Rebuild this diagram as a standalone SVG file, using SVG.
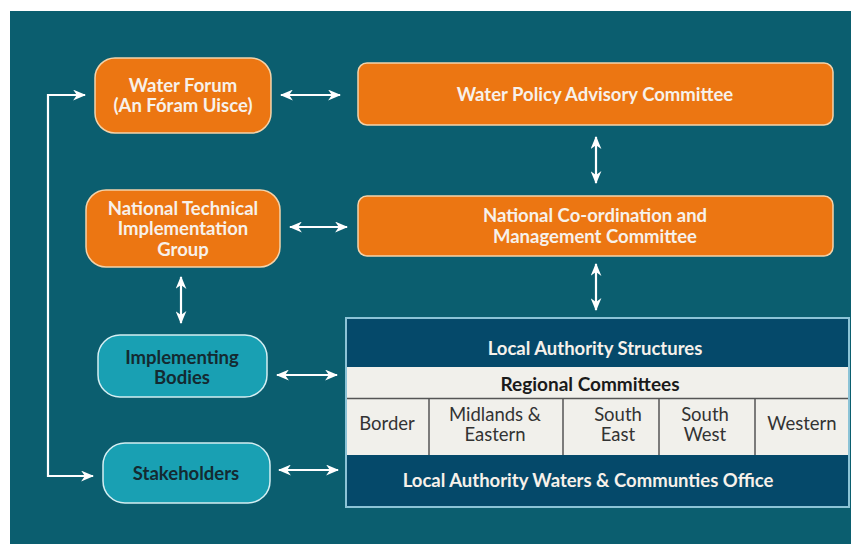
<svg xmlns="http://www.w3.org/2000/svg" width="851" height="544" viewBox="0 0 851 544">
<defs>
<style>
.bg{fill:#0b5e6f}
.or{fill:#ec7612;stroke:#f3d3aa;stroke-width:1.5}
.cy{fill:#19a0b3;stroke:#d4eef2;stroke-width:1.5}
.tw{font-family:Lato,"Open Sans",sans-serif;font-weight:700;font-size:18.5px;fill:#f7f1ea;text-anchor:middle}
.td{font-family:Lato,"Open Sans",sans-serif;font-weight:700;font-size:18.5px;fill:#142a31;text-anchor:middle}
.tc{font-family:Lato,"Open Sans",sans-serif;font-weight:400;font-size:18.5px;fill:#333;text-anchor:middle}
.tb{font-family:Lato,"Open Sans",sans-serif;font-weight:700;font-size:19px;fill:#1a1a1a;text-anchor:middle}
.lt{fill:#f1f0eb}
.grid{stroke:#555;stroke-width:1.5;fill:none}
.con{stroke:#fff;stroke-width:2.2;fill:none}
</style>
<marker id="ah" viewBox="0 0 12 10" refX="11" refY="5" markerWidth="13" markerHeight="11" markerUnits="userSpaceOnUse" orient="auto-start-reverse">
<path d="M0,0 L12,5 L0,10 L3.5,5 z" fill="#fff"/>
</marker>
</defs>
<rect class="bg" x="10" y="11" width="841" height="533"/>

<g id="water-forum">
<rect class="or" x="95" y="58" width="176" height="75" rx="20"/>
<text class="tw" x="183" y="92">Water Forum</text>
<text class="tw" x="183" y="112">(An Fóram Uisce)</text>
</g>
<g id="wpac">
<rect class="or" x="358" y="63" width="475" height="62" rx="9"/>
<text class="tw" x="595" y="101">Water Policy Advisory Committee</text>
</g>
<g id="ntig">
<rect class="or" x="86" y="190" width="194" height="77" rx="20"/>
<text class="tw" x="183" y="215">National Technical</text>
<text class="tw" x="183" y="235">Implementation</text>
<text class="tw" x="183" y="256">Group</text>
</g>
<g id="ncmc">
<rect class="or" x="358" y="196" width="475" height="60" rx="9"/>
<text class="tw" x="595" y="222">National Co-ordination and</text>
<text class="tw" x="595" y="243">Management Committee</text>
</g>
<g id="implementing-bodies">
<rect class="cy" x="98" y="335" width="169" height="62" rx="22"/>
<text class="td" x="182" y="364">Implementing</text>
<text class="td" x="182" y="384">Bodies</text>
</g>
<g id="stakeholders">
<rect class="cy" x="103" y="443" width="167" height="60" rx="22"/>
<text class="td" x="186" y="480">Stakeholders</text>
</g>
<g id="local-authority">
<rect x="346" y="318" width="503" height="189" fill="#05496a" stroke="#8cc3d6" stroke-width="2"/>
<rect class="lt" x="347" y="367" width="501" height="88"/>
<line class="grid" x1="347" y1="398.5" x2="848" y2="398.5"/>
<line class="grid" x1="429" y1="398" x2="429" y2="455"/>
<line class="grid" x1="563" y1="398" x2="563" y2="455"/>
<line class="grid" x1="659" y1="398" x2="659" y2="455"/>
<line class="grid" x1="755" y1="398" x2="755" y2="455"/>
<text class="tw" x="595" y="355">Local Authority Structures</text>
<text class="tb" x="590" y="391">Regional Committees</text>
<text class="tc" x="387" y="430">Border</text>
<text class="tc" x="495" y="421">Midlands &amp;</text>
<text class="tc" x="495" y="441">Eastern</text>
<text class="tc" x="618" y="421">South</text>
<text class="tc" x="618" y="441">East</text>
<text class="tc" x="705" y="421">South</text>
<text class="tc" x="705" y="441">West</text>
<text class="tc" x="802" y="430">Western</text>
<text class="tw" x="588" y="487">Local Authority Waters &amp; Communties Office</text>
</g>

<g id="connectors">
<path class="con" d="M85,95 H48 V476 H93" marker-start="url(#ah)" marker-end="url(#ah)"/>
<line class="con" x1="281" y1="95" x2="340" y2="95" marker-start="url(#ah)" marker-end="url(#ah)"/>
<line class="con" x1="290" y1="227" x2="347" y2="227" marker-start="url(#ah)" marker-end="url(#ah)"/>
<line class="con" x1="596" y1="137" x2="596" y2="183" marker-start="url(#ah)" marker-end="url(#ah)"/>
<line class="con" x1="596" y1="264" x2="596" y2="310" marker-start="url(#ah)" marker-end="url(#ah)"/>
<line class="con" x1="181" y1="277" x2="181" y2="323" marker-start="url(#ah)" marker-end="url(#ah)"/>
<line class="con" x1="277" y1="375" x2="337" y2="375" marker-start="url(#ah)" marker-end="url(#ah)"/>
<line class="con" x1="279" y1="470" x2="338" y2="470" marker-start="url(#ah)" marker-end="url(#ah)"/>
</g>
</svg>
